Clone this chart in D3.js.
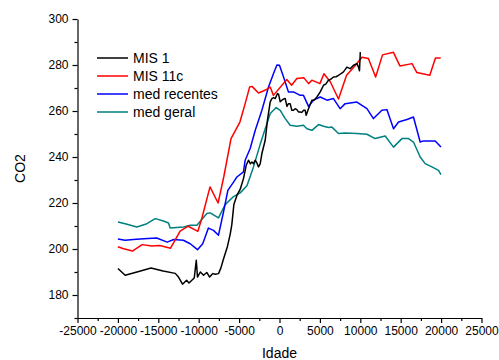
<!DOCTYPE html>
<html>
<head>
<meta charset="utf-8">
<script src="https://cdn.jsdelivr.net/npm/d3@7"></script>
<style>
  body { margin: 0; background: #fff; }
  svg { display: block; font-family: "Liberation Sans", Arial, sans-serif; }
  .axis path, .axis line { stroke: #000; stroke-width: 1.2; }
  .axis text { font-size: 12px; fill: #000; }
</style>
</head>
<body>
<div id="chart"></div>
<script>
// --- Data ---
const seriesNames = ["MIS 1", "MIS 11c", "med recentes", "med geral"];
const seriesColors = ["#000000", "#ff0000", "#0000ff", "#008080"];

const mis1 = [
  [-20000, 191.5], [-19100, 188.6], [-17200, 190.4], [-15900, 191.7], [-14400, 190.4],
  [-12900, 189.4], [-12500, 187.8], [-12000, 184.7], [-11500, 186.4], [-11200, 185.2],
  [-10850, 186.4], [-10550, 187.4], [-10300, 195.1], [-10150, 187.8], [-9800, 190],
  [-9400, 188.6], [-9000, 189.8], [-8650, 187.8], [-8250, 189.3], [-7950, 189],
  [-7550, 189.3], [-7250, 191.8], [-6950, 195.4], [-6450, 201], [-6100, 206.5],
  [-5900, 210.6], [-5650, 219.3], [-5270, 223.3], [-4860, 226], [-4460, 230.6],
  [-4120, 236.4], [-3840, 238.6], [-3600, 237], [-3420, 237.8], [-3220, 237.1],
  [-3010, 238.6], [-2800, 237.4], [-2600, 235.7], [-2390, 237], [-2180, 241.5],
  [-1770, 247.3], [-1490, 256], [-1150, 264], [-940, 265.4], [-740, 265.8],
  [-530, 265.4], [-250, 267.6], [-120, 267.3], [90, 264], [300, 264.7],
  [500, 265.2], [710, 265.4], [920, 262], [1110, 263.2], [1320, 263.2],
  [1530, 260.3], [1730, 260.3], [1940, 261], [2150, 260.6], [2350, 259.6],
  [2560, 259.6], [2770, 259.4], [2980, 260.3], [3180, 260.3], [3300, 258.1],
  [3590, 261], [4010, 264.7], [4300, 264.8], [4630, 266.1], [5040, 268.3],
  [5450, 271.2], [5750, 271.8], [6060, 273.4], [6350, 273.8], [6680, 274.8],
  [7000, 274.9], [7300, 275.5], [7620, 276.3], [7920, 277], [8340, 279.1],
  [8750, 278.4], [9160, 279.9], [9580, 280.6], [9780, 279.1], [9900, 277.5],
  [10000, 285.6]
];

const mis11c = [
  [-20000, 201], [-19400, 200.2], [-18200, 199.1], [-17000, 201.9], [-15800, 201.3],
  [-14800, 201.5], [-13500, 200.3], [-12300, 207.8], [-11300, 209.9], [-10100, 207.7],
  [-9600, 213.5], [-8600, 227], [-7600, 220], [-6900, 231.3], [-6000, 248],
  [-4900, 255.2], [-4250, 263.2], [-3700, 270.4], [-3400, 270.7], [-2600, 267.8],
  [-1800, 269], [-1150, 270.4], [-750, 266.8], [900, 273.7], [1500, 271.2],
  [2150, 274.1], [3000, 274.5], [3600, 271.9], [4000, 273.4], [5000, 271.9],
  [5500, 276.2], [6300, 272.6], [7300, 265.2], [8300, 275.5], [9400, 279.9],
  [10200, 283.4], [11000, 282.8], [11900, 274.8], [12750, 284.4], [14100, 285.5],
  [14900, 279.6], [16400, 280.6], [17000, 276.7], [18600, 275.5], [19300, 283],
  [19950, 283]
];

const medRecentes = [
  [-20000, 204.3], [-19100, 203.8], [-18100, 204.1], [-16800, 204.5], [-15200, 204.8],
  [-13900, 203], [-13100, 204.1], [-11900, 203.8], [-11050, 202.3], [-10150, 199.7],
  [-9500, 202.3], [-8800, 209.1], [-8170, 208.1], [-7550, 206], [-6930, 216.1],
  [-6390, 225.5], [-5690, 229.1], [-5270, 231.3], [-4460, 233.5], [-4250, 238.6],
  [-3630, 243.7], [-3000, 251.6], [-2180, 260.3], [-1360, 270.4], [-740, 276.3],
  [-320, 280], [0, 279.9], [500, 274.8], [1110, 268.3], [1730, 268.3],
  [2560, 266.8], [2970, 266.8], [3590, 262], [4200, 264.7], [5040, 266.1],
  [5870, 264.7], [6680, 265.4], [7500, 261], [8130, 263.2], [9580, 263.9],
  [10820, 261], [11630, 256.7], [12670, 260.3], [13290, 260.6], [14110, 252.3],
  [14730, 255.2], [15770, 256.3], [16580, 257.4], [17410, 246.5], [17820, 247],
  [19270, 247], [19980, 244.3]
];

const medGeral = [
  [-20000, 211.7], [-19100, 211], [-17650, 209.6], [-16410, 211], [-15380, 213.2],
  [-14360, 212.2], [-13740, 211.3], [-13530, 209.1], [-11880, 209.6], [-11050, 210.3],
  [-10220, 210.3], [-8990, 215.4], [-8580, 215.7], [-7550, 213.5], [-6720, 219.3],
  [-5690, 222.8], [-4860, 224.4], [-4030, 227.5], [-3220, 235.7], [-2390, 245.5],
  [-1150, 258.9], [-410, 261.5], [90, 260.3], [710, 256.7], [1320, 253.8],
  [2150, 253.4], [2970, 253.8], [3390, 252.3], [4010, 251.6], [4830, 254.1],
  [5450, 253.4], [6060, 252.8], [6490, 253], [7300, 250.2], [8130, 250.4],
  [9580, 250.2], [10820, 249.9], [11840, 248], [13080, 249.1], [14110, 244.3],
  [15150, 248], [15970, 248], [16580, 246.5], [17410, 240], [18030, 237.1],
  [18860, 235.7], [19680, 234.2], [19980, 232.3]
];

const allSeries = [mis1, mis11c, medRecentes, medGeral];

const xMajorTicks = [-25000, -20000, -15000, -10000, -5000, 0, 5000, 10000, 15000, 20000, 25000];
const xMinorTicks = [-22500, -17500, -12500, -7500, -2500, 2500, 7500, 12500, 17500, 22500];
const yMajorTicks = [180, 200, 220, 240, 260, 280, 300];
const yMinorTicks = [170, 190, 210, 230, 250, 270, 290];

// --- Setup ---
const W = 499, H = 360;
const margin = { top: 19, right: 17.5, bottom: 42, left: 77.5 };

const svg = d3.select("#chart").append("svg")
  .attr("width", W)
  .attr("height", H);

const xScale = d3.scaleLinear().domain([-25000, 25000]).range([margin.left, W - margin.right]);
const yScale = d3.scaleLinear().domain([170, 300]).range([H - margin.bottom, margin.top]);

// plain numbers with ascii minus, no thousands separator
const plainFormat = d => String(d);

// axes
svg.append("g")
  .attr("class", "axis")
  .attr("transform", `translate(0,${H - margin.bottom})`)
  .call(d3.axisBottom(xScale).tickValues(xMajorTicks).tickSize(5).tickSizeOuter(0).tickPadding(3).tickFormat(plainFormat))
  .call(g => g.selectAll("text").attr("dy", "0.75em"));

svg.append("g")
  .attr("class", "axis")
  .attr("transform", `translate(0,${H - margin.bottom})`)
  .call(d3.axisBottom(xScale).tickValues(xMinorTicks).tickSize(3).tickSizeOuter(0).tickFormat(""))
  .call(g => g.select(".domain").remove());

svg.append("g")
  .attr("class", "axis")
  .attr("transform", `translate(${margin.left},0)`)
  .call(d3.axisLeft(yScale).tickValues(yMajorTicks).tickSize(5).tickSizeOuter(0).tickPadding(4).tickFormat(plainFormat));

svg.append("g")
  .attr("class", "axis")
  .attr("transform", `translate(${margin.left},0)`)
  .call(d3.axisLeft(yScale).tickValues(yMinorTicks).tickSize(3).tickSizeOuter(0).tickFormat(""))
  .call(g => g.select(".domain").remove());

// axis titles
svg.append("text")
  .attr("x", (margin.left + W - margin.right) / 2)
  .attr("y", 358)
  .attr("text-anchor", "middle")
  .style("font-size", "14px")
  .text("Idade");

svg.append("text")
  .attr("transform", `translate(25,${(margin.top + H - margin.bottom) / 2}) rotate(-90)`)
  .attr("text-anchor", "middle")
  .style("font-size", "14px")
  .text("CO2");

// lines
const line = d3.line()
  .x(d => xScale(d[0]))
  .y(d => yScale(d[1]));

// draw order: med geral, med recentes, MIS 11c, MIS 1 on top
[3, 2, 1, 0].forEach(i => {
  svg.append("path")
    .datum(allSeries[i])
    .attr("fill", "none")
    .attr("stroke", seriesColors[i])
    .attr("stroke-width", 1.5)
    .attr("stroke-linejoin", "round")
    .attr("d", line);
});

// legend
const legend = svg.append("g").attr("transform", "translate(97,58)");
seriesNames.forEach((name, i) => {
  const row = legend.append("g").attr("transform", `translate(0,${i * 18})`);
  row.append("line")
    .attr("x1", 0).attr("x2", 31)
    .attr("stroke", seriesColors[i])
    .attr("stroke-width", 1.5);
  row.append("text")
    .attr("x", 36)
    .attr("y", 5)
    .style("font-size", "14px")
    .text(name);
});
</script>
</body>
</html>
